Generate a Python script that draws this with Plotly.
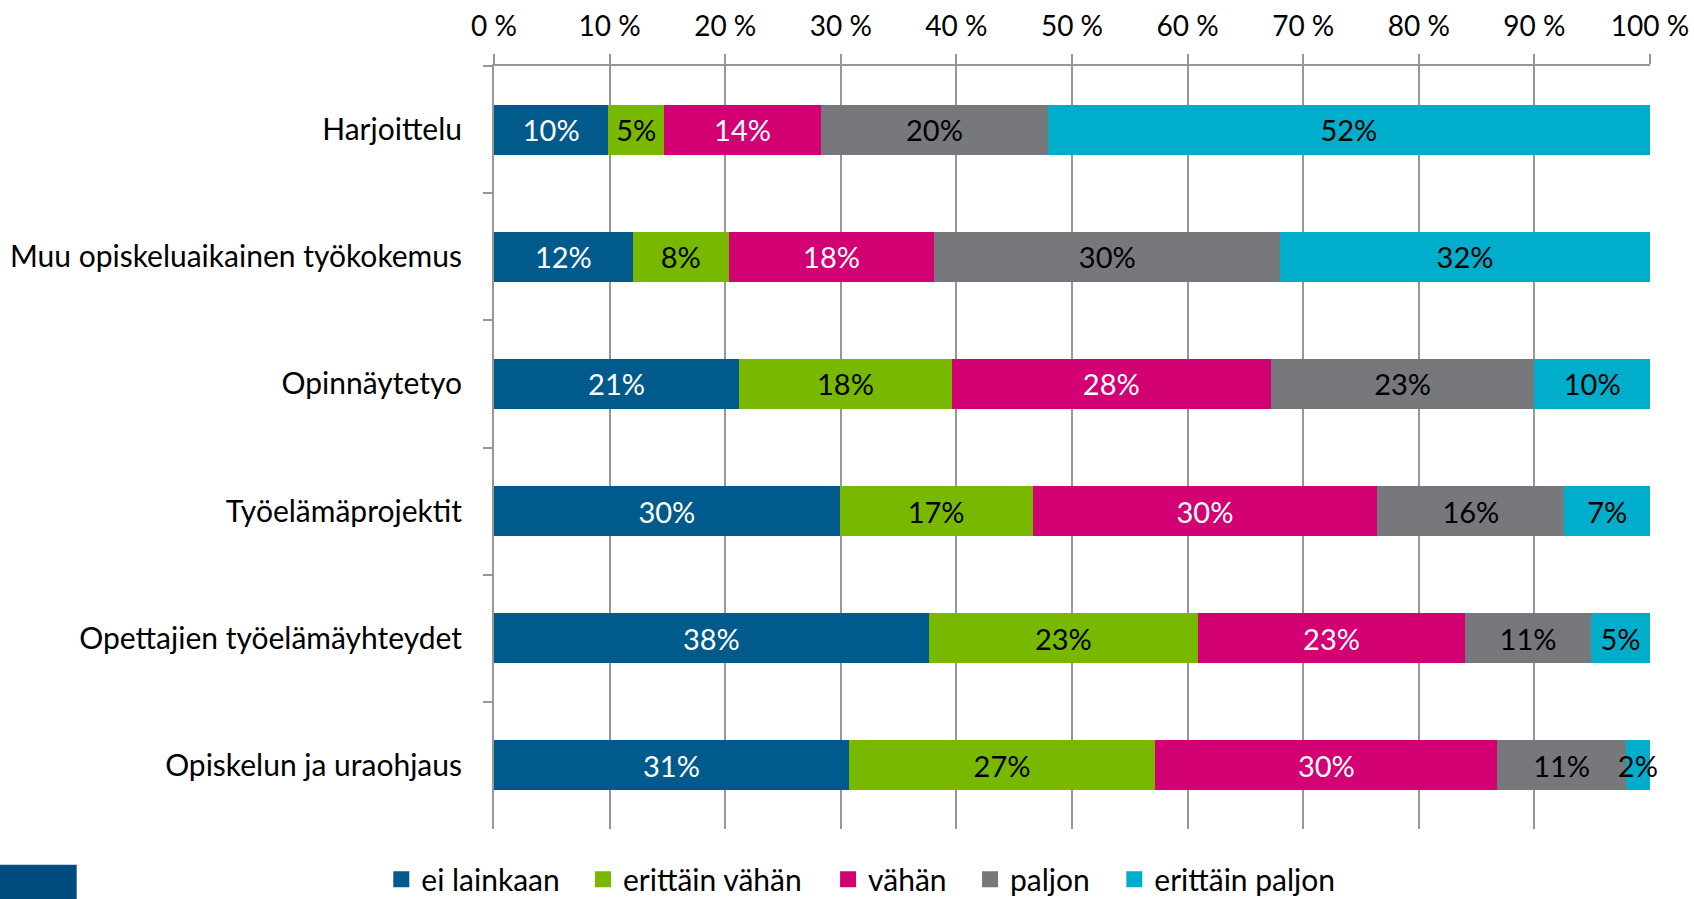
import plotly.graph_objects as go

categories = ["Harjoittelu", "Muu opiskeluaikainen työkokemus", "Opinnäytetyo",
              "Työelämäprojektit", "Opettajien työelämäyhteydet", "Opiskelun ja uraohjaus"]
series_names = ["ei lainkaan", "erittäin vähän", "vähän", "paljon", "erittäin paljon"]
ei_lainkaan = [9.9, 12.0, 21.2, 29.9, 37.6, 30.7]
erittain_vahan = [4.8, 8.3, 18.4, 16.7, 23.3, 26.5]
vahan = [13.6, 17.8, 27.6, 29.8, 23.1, 29.6]
paljon = [19.6, 29.9, 22.8, 16.2, 10.9, 11.1]
erittain_paljon = [52.1, 32.0, 10.0, 7.4, 5.1, 2.1]
tick_vals = [0, 10, 20, 30, 40, 50, 60, 70, 80, 90, 100]
tick_text = ["0 %", "10 %", "20 %", "30 %", "40 %", "50 %", "60 %", "70 %", "80 %", "90 %", "100 %"]

series_values = [ei_lainkaan, erittain_vahan, vahan, paljon, erittain_paljon]
colors = ["#005A8B", "#78B900", "#D20073", "#77787B", "#00AECB"]
text_colors = ["white", "black", "white", "black", "black"]
legend_x = [-0.0975, 0.0770, 0.2890, 0.4118, 0.5366]

FONT = "Lato"
FS = 29
CAT_FS = 30
TICK_FS = 28

fig = go.Figure()
for name, vals, col, tc in zip(series_names, series_values, colors, text_colors):
    fig.add_trace(go.Bar(
        y=categories, x=vals, name=name, orientation="h",
        marker=dict(color=col, line=dict(width=0)),
        texttemplate="%{x:.0f}%", textposition="inside", insidetextanchor="middle",
        textangle=0,
        textfont=dict(color=tc, size=FS, family=FONT),
        constraintext="none", cliponaxis=False, showlegend=False,
    ))

legends = {}
for i, (name, col, lx) in enumerate(zip(series_names, colors, legend_x)):
    key = "legend" if i == 0 else f"legend{i + 1}"
    fig.add_trace(go.Scatter(
        x=[None], y=[None], mode="markers", name=name, legend=key,
        marker=dict(symbol="square", size=18, color=col),
    ))
    legends[key] = dict(orientation="h", x=lx, xanchor="left", y=-0.066, yanchor="middle",
                        font=dict(size=CAT_FS, family=FONT), itemwidth=30,
                        bgcolor="rgba(0,0,0,0)", borderwidth=0)

fig.update_layout(
    width=1694, height=899,
    barmode="stack", bargap=0.607,
    plot_bgcolor="white", paper_bgcolor="white",
    margin=dict(l=494, r=44, t=66, b=70, autoexpand=False),
    font=dict(family=FONT, size=FS, color="black"),
    uniformtext=dict(minsize=FS, mode="show"),
    xaxis=dict(side="top", range=[0, 100], tickvals=tick_vals, ticktext=tick_text,
               showgrid=True, gridcolor="#979797", gridwidth=2,
               showline=True, linecolor="#979797", linewidth=2,
               ticks="outside", ticklen=10, tickcolor="#979797", tickwidth=2,
               ticklabelstandoff=7,
               zeroline=False, automargin=False, tickfont=dict(size=TICK_FS, family=FONT)),
    yaxis=dict(autorange="reversed", showgrid=False, automargin=False,
               showline=True, linecolor="#979797", linewidth=2,
               ticks="outside", tickson="boundaries", ticklen=9, tickcolor="#979797", tickwidth=2,
               ticklabelstandoff=24, tickfont=dict(size=CAT_FS, family=FONT)),
    shapes=[dict(type="rect", xref="paper", yref="paper",
                 x0=-0.4275, x1=-0.361, y0=-0.094, y1=-0.047,
                 fillcolor="#004B7F", line=dict(width=0), layer="above")],
    **legends,
)

fig.write_html("out.html", config={"displayModeBar": False},
               post_script="document.body.style.margin='0';document.body.style.overflow='hidden';")
